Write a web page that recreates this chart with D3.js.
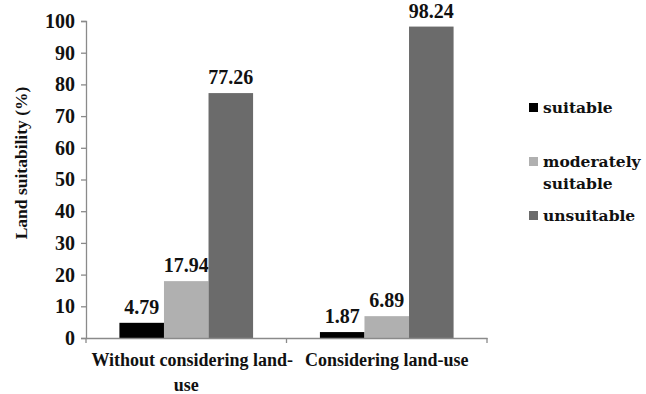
<!DOCTYPE html>
<html>
<head>
<meta charset="utf-8">
<script src="https://cdn.jsdelivr.net/npm/d3@7"></script>
<style>
  html, body { margin: 0; padding: 0; background: #fff; }
  svg { display: block; }
</style>
</head>
<body>
<svg id="chart" width="646" height="394"></svg>
<script>
const categories = [["Without considering land-", "use"], ["Considering land-use"]];
const categoryKeys = ["without", "considering"];
const seriesNames = ["suitable", "moderately suitable", "unsuitable"];
const suitable = [4.79, 1.87];
const moderatelySuitable = [17.94, 6.89];
const unsuitable = [77.26, 98.24];
const yTicks = [0, 10, 20, 30, 40, 50, 60, 70, 80, 90, 100];
const colors = ["#000000", "#b0b0b0", "#6b6b6b"];
const legendLines = [["suitable"], ["moderately", "suitable"], ["unsuitable"]];

const seriesValues = [suitable, moderatelySuitable, unsuitable];

const svg = d3.select("#chart");
const plotLeft = 86, plotRight = 487, plotTop = 21, plotBottom = 338;

const y = d3.scaleLinear().domain([0, 100]).range([plotBottom, plotTop]);
const x0 = d3.scaleBand().domain(categoryKeys).range([plotLeft, plotRight]).padding(0);
const x1 = d3.scaleBand().domain(d3.range(seriesNames.length))
  .range([0, x0.bandwidth()]).paddingInner(0).paddingOuter(0.75);

const serif = "'Liberation Serif', 'Times New Roman', serif";

// bars
categoryKeys.forEach((c, ci) => {
  const g = svg.append("g").attr("transform", `translate(${x0(c)},0)`);
  seriesValues.forEach((vals, si) => {
    const v = vals[ci];
    g.append("rect")
      .attr("x", x1(si))
      .attr("y", y(v))
      .attr("width", x1.bandwidth())
      .attr("height", y(0) - y(v))
      .attr("fill", colors[si]);
    g.append("text")
      .attr("x", x1(si) + x1.bandwidth() / 2)
      .attr("y", y(v) - 9)
      .attr("text-anchor", "middle")
      .attr("font-family", serif)
      .attr("font-weight", "bold")
      .attr("font-size", 20)
      .attr("fill", "#111")
      .text(v.toFixed(2));
  });
});

// y axis
const yAxis = d3.axisLeft(y).tickValues(yTicks).tickSize(5).tickPadding(6);
const yg = svg.append("g").attr("transform", `translate(${plotLeft},0)`).call(yAxis);
yg.select(".domain").attr("stroke", "#8a8a8a").attr("stroke-width", 1.3);
yg.selectAll(".tick line").attr("stroke", "#8a8a8a").attr("stroke-width", 1.3);
yg.selectAll(".tick text")
  .attr("font-family", serif).attr("font-weight", "bold")
  .attr("font-size", 20).attr("fill", "#111");

// x axis
const xAxis = d3.axisBottom(x0).tickSize(0).tickFormat("");
const xg = svg.append("g").attr("transform", `translate(0,${plotBottom})`).call(xAxis);
xg.select(".domain").attr("stroke", "#8a8a8a").attr("stroke-width", 1.3);
xg.selectAll(".tick").remove();
const boundaries = [plotLeft, x0(categoryKeys[1]), plotRight];
xg.selectAll("line.bt").data(boundaries).enter().append("line")
  .attr("class", "bt")
  .attr("x1", d => d).attr("x2", d => d)
  .attr("y1", 0).attr("y2", 5)
  .attr("stroke", "#8a8a8a").attr("stroke-width", 1.3);

// category labels
categoryKeys.forEach((c, ci) => {
  const t = svg.append("text")
    .attr("text-anchor", "middle")
    .attr("font-family", serif).attr("font-weight", "bold")
    .attr("font-size", 18).attr("fill", "#111");
  categories[ci].forEach((line, li) => {
    t.append("tspan")
      .attr("x", x0(c) + x0.bandwidth() / 2 + (categories[ci].length > 1 && li === 0 ? 6 : 0))
      .attr("y", 366 + li * 25)
      .text(line);
  });
});

// y axis title
svg.append("text")
  .attr("transform", "translate(27,163) rotate(-90)")
  .attr("text-anchor", "middle")
  .attr("font-family", serif).attr("font-weight", "bold")
  .attr("font-size", 17.5).attr("fill", "#111")
  .text("Land suitability (%)");

// legend
const legendBase = [113, 167, 221];
legendLines.forEach((lines, i) => {
  svg.append("rect")
    .attr("x", 529).attr("y", legendBase[i] - 10)
    .attr("width", 9).attr("height", 9)
    .attr("fill", colors[i]);
  const t = svg.append("text")
    .attr("font-family", "'DejaVu Serif', serif").attr("font-weight", "bold")
    .attr("font-size", 15.5).attr("fill", "#111");
  lines.forEach((line, li) => {
    t.append("tspan").attr("x", 543).attr("y", legendBase[i] + li * 22).text(line);
  });
});
</script>
</body>
</html>
